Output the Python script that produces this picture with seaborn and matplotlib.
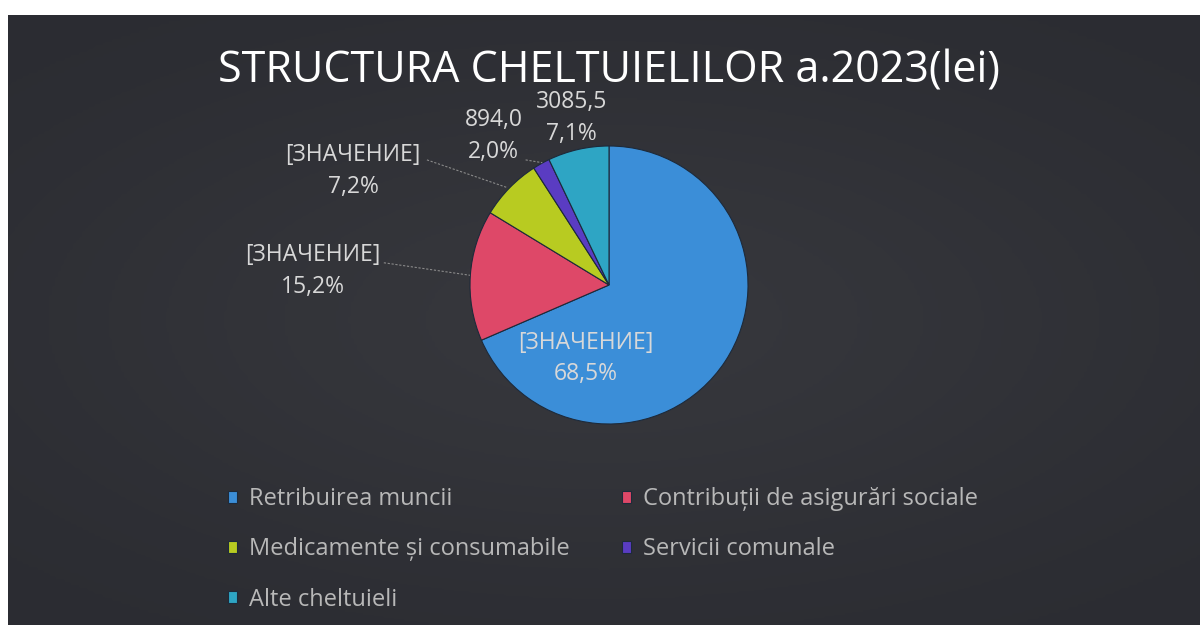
import numpy as np
import seaborn as sns
import matplotlib.pyplot as plt

# data
categories = ['Retribuirea muncii', 'Contribuții de asigurări sociale',
              'Medicamente și consumabile', 'Servicii comunale', 'Alte cheltuieli']
shares = [68.5, 15.2, 7.2, 2.0, 7.1]
value_labels = ['[ЗНАЧЕНИЕ]', '[ЗНАЧЕНИЕ]', '[ЗНАЧЕНИЕ]', '894,0', '3085,5']
pct_labels = ['68,5%', '15,2%', '7,2%', '2,0%', '7,1%']
colors = ['#3b8ed8', '#de4868', '#b8cb21', '#5a3cc2', '#2ea5c4']
title = 'STRUCTURA CHELTUIELILOR a.2023(lei)'

sns.set_theme(style='dark')
plt.rcParams['font.family'] = ['Open Sans', 'DejaVu Sans']

W, H = 1200, 625
fig = plt.figure(figsize=(W / 100, H / 100), dpi=100)
fig.patch.set_facecolor('white')

# dark panel (scan leaves a white edge at top and left)
bg = fig.add_axes([8 / W, 0, 1 - 8 / W, (H - 15) / H])
bg.set_axis_off()
yy, xx = np.mgrid[-1:1:200j, -1:1:400j]
glow = np.exp(-(xx ** 2 * 1.0 + yy ** 2 * 1.3))
bg.imshow(glow, cmap=sns.blend_palette(['#2a2b31', '#36373c'], as_cmap=True),
          aspect='auto', extent=[0, 1, 0, 1], vmin=0, vmax=1)

fig.text(609 / W, 1 - 71 / H, title, ha='center', va='center',
         color='white', fontsize=31)

# pie
cx, cy, r = 609, 285, 139
ax = fig.add_axes([(cx - r) / W, (H - cy - r) / H, 2 * r / W, 2 * r / H])
wedges, _ = ax.pie(shares, colors=colors, startangle=90, counterclock=False,
                   wedgeprops=dict(edgecolor='#1d2a3a', linewidth=0.8))
ax.set_xlim(-1, 1)
ax.set_ylim(-1, 1)
ax.set_aspect('equal')
ax.set_axis_off()

lab_pos = [(-0.17, -0.53), (-2.13, 0.10), (-1.84, 0.82), (-0.83, 1.07), (-0.27, 1.20)]
for (x, y), v, p in zip(lab_pos, value_labels, pct_labels):
    ax.text(x, y, v + '\n' + p, ha='center', va='center', color='#d8d8d8',
            fontsize=16.5, linespacing=1.42, clip_on=False)

leaders = [((-1.62, 0.16), (-1.00, 0.07)),
           ((-1.31, 0.90), (-0.73, 0.70)),
           ((-0.60, 0.90), (-0.48, 0.88))]
for (x0, y0), (x1, y1) in leaders:
    ax.plot([x0, x1], [y0, y1], color='#8a8a8a', lw=0.8, ls=(0, (2, 1.5)), clip_on=False)

order = [0, 2, 4, 1, 3]
leg = fig.legend([wedges[i] for i in order], [categories[i] for i in order],
                 ncol=2, loc='upper left', bbox_to_anchor=(228 / W, 1 - 487 / H),
                 frameon=False, fontsize=17, labelcolor='#b8b8b8',
                 borderpad=0, borderaxespad=0,
                 handlelength=0.4, handleheight=0.4, handletextpad=0.5,
                 labelspacing=1.12, columnspacing=2.2)

fig.savefig('out.png', dpi=100, facecolor=fig.get_facecolor())
